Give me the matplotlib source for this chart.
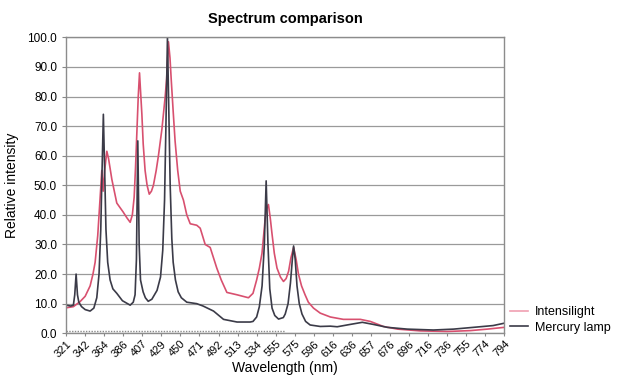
import numpy as np
import matplotlib
matplotlib.use('Agg')
import matplotlib.pyplot as plt
from matplotlib.ticker import FormatStrFormatter

plt.rcParams['font.family'] = ['Liberation Sans', 'DejaVu Sans']

# tick labels of the (category-like) wavelength axis
tick_wl = [321, 342, 364, 386, 407, 429, 450, 471, 492, 513, 534, 555,
           575, 596, 616, 636, 657, 676, 696, 716, 736, 755, 774, 794]

# Mercury lamp (wavelength nm, relative intensity)
hg_wl = [321, 326, 329, 330.5, 332, 333.5, 335, 338, 342, 347.7, 352, 355.4,
         358, 360, 361.5, 363, 364.5, 366, 368, 370.8, 374, 378.5, 385, 393.6,
         397, 399, 400.5, 402, 403.5, 405, 407.9, 410.5, 413.8, 418,
         424, 428, 430.5, 432.5, 434, 435.7, 437.2, 438.7, 440.5, 442, 444.5,
         447.5, 451, 457, 468, 475, 486.5, 497.5, 512.4,
         526.9, 530, 534, 537, 540, 542.5, 544.5, 546.5, 548.5, 551, 554, 558,
         563, 565, 568, 570.5, 572.5, 573.8, 575.5, 577.5, 580, 583, 587, 592,
         602.8, 613.4, 620.6, 634.4, 647.5, 659.3,
         673.3, 694.2, 721.6, 742.3, 762.2, 782.2, 794]
hg_val = [9.5, 9.2, 9.5, 13, 20, 13, 10.5, 9, 8, 7.5, 8.5, 12,
          20, 35, 55, 74, 55, 35, 24, 18, 15, 13.5, 11, 9.5,
          10.5, 13, 25, 65, 30, 18, 14, 12, 10.8, 11.5,
          14.5, 19, 28, 45, 70, 100, 75, 50, 32, 24, 18,
          14, 12, 10.5, 10, 9.2, 7.5, 4.7, 3.8,
          3.8, 4, 5.5, 9, 16, 30, 51.5, 30, 15, 8.5, 6, 4.8,
          5.3, 6.5, 10, 17, 25, 29.5, 25, 16, 10, 6.5, 4, 2.8,
          2.3, 2.4, 2.2, 3, 3.7, 3,
          2, 1.4, 1.1, 1.4, 2, 2.6, 3.4]

# Intensilight
il_wl = [321, 329, 336.4, 342, 347.7, 351, 353.5, 356.5, 359.3, 361.2, 362.7,
         364.5, 367, 369, 372.8, 378.5, 385.8, 390, 393.6, 396, 398, 399.5,
         401, 402.5, 403.9, 405, 406.5, 408, 410.2, 412.5, 415, 417.5, 419.8,
         423, 425.6, 429.6, 433.2, 434.8, 436.8, 438.5, 439.8, 442, 444.1,
         447, 449.8, 453.3, 457, 460.8, 468, 471.8, 477.3, 482.8, 490.1,
         495, 501.2, 512.4, 525, 530, 534, 537, 539.9, 542, 543.5, 545, 547,
         549, 550.8, 553.5, 556.4, 560, 563.2, 566, 568.6, 571, 573.8, 576.5,
         579.1, 582.5, 586.4, 590, 595.7, 602.8, 613.4, 627, 645.3, 656.3,
         669.4, 683.9, 707.9, 736, 759.2, 776.1, 794]
il_val = [8.6, 9, 10.7, 12.5, 16, 20, 24, 33, 46, 55, 48,
          55, 61.5, 59, 52, 44, 41, 39, 37.5, 40, 46, 56,
          68, 80, 88, 82, 74, 64, 55, 50, 47, 48, 50,
          55, 60, 69, 80, 86, 98.5, 93, 86, 75, 65,
          55, 48, 45, 40, 37, 36.5, 35.5, 30, 29, 22,
          18, 13.8, 13, 12, 13.5, 18, 22, 27, 34, 39, 42, 43.5,
          39, 34, 27, 22, 19, 17.5, 18.5, 21, 25.5, 29, 25,
          20, 16, 13, 10.5, 8.5, 6.8, 5.5, 4.7, 4.7, 4,
          2.3, 1.4, 0.8, 0.6, 0.9, 1.4, 2]

# faint dotted reference trace near zero
ref_wl = [321, 565]
ref_val = [0.8, 0.8]


def to_pos(wl):
    return np.interp(wl, tick_wl, np.arange(len(tick_wl)))


fig = plt.figure(figsize=(6.18, 3.77), dpi=100)
ax = fig.add_axes([0.107, 0.116, 0.709, 0.785])

ax.yaxis.grid(True, color='#9a9a9a', lw=0.9)
ax.set_axisbelow(True)

ax.plot(to_pos(ref_wl), ref_val, color='#8a8a8a', lw=1.0, ls=(0, (1, 1)))
ax.plot(to_pos(il_wl), il_val, color='#d8506f', lw=1.2, label='Intensilight')
ax.plot(to_pos(hg_wl), hg_val, color='#3b3b48', lw=1.2, label='Mercury lamp')

ax.set_xlim(0, len(tick_wl) - 1)
ax.set_ylim(0, 100)
ax.set_xticks(np.arange(len(tick_wl)))
ax.set_xticklabels([str(t) for t in tick_wl], rotation=45, ha='right',
                   rotation_mode='anchor', fontsize=8)
ax.set_yticks(np.arange(0, 101, 10))
ax.yaxis.set_major_formatter(FormatStrFormatter('%.1f'))
ax.tick_params(axis='y', labelsize=8.5, length=3, color='#888888')
ax.tick_params(axis='x', length=2, color='#888888', pad=2)

for s in ax.spines.values():
    s.set_color('#8c8c8c')
    s.set_linewidth(1.0)

ax.set_title('Spectrum comparison', fontsize=10.5, fontweight='bold', pad=10)
ax.set_xlabel('Wavelength (nm)', fontsize=10, labelpad=1)
ax.set_ylabel('Relative intensity', fontsize=10, labelpad=6)

leg = ax.legend(loc='center left', bbox_to_anchor=(0.995, 0.045), frameon=False,
                fontsize=9, handlelength=1.5, handletextpad=0.5,
                labelspacing=0.3, borderaxespad=0.2)
leg.get_lines()[0].set_color('#f0a0b2')

fig.savefig('out.png', dpi=100)
